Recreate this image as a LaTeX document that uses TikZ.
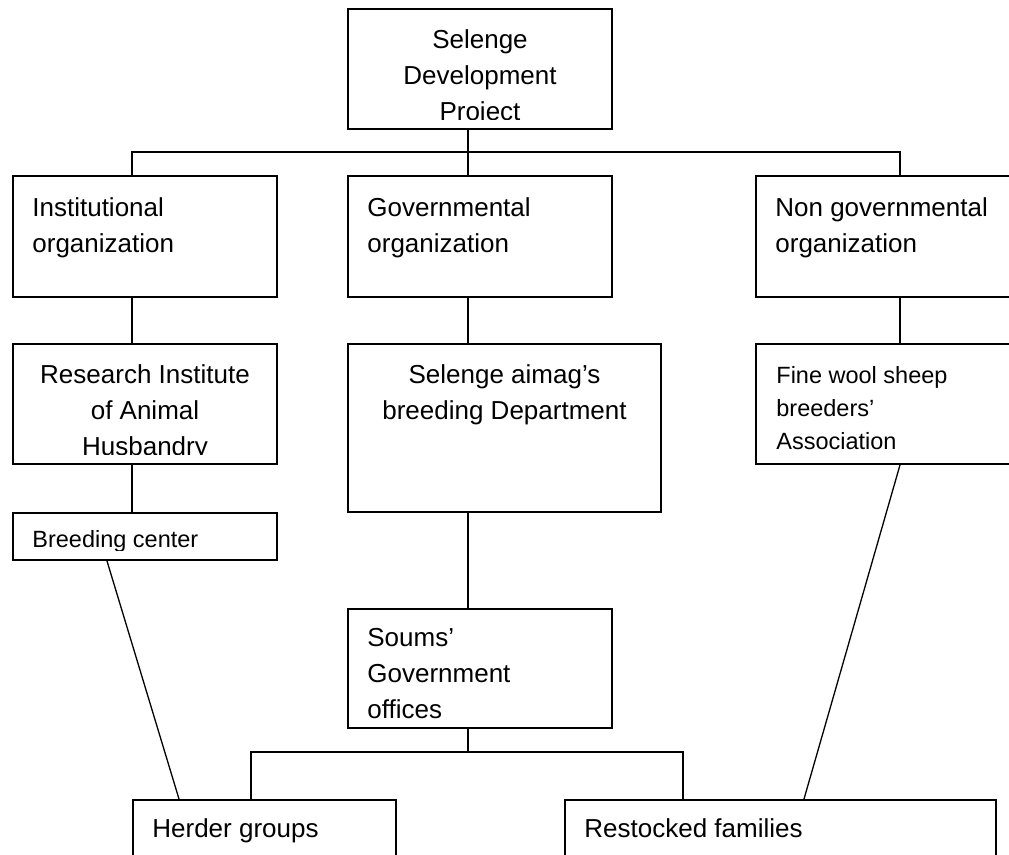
\documentclass[tikz,border=0pt]{standalone}
\usepackage{fontspec}
\setmainfont{Liberation Sans}
\begin{document}
\begin{tikzpicture}[x=0.5pt,y=-0.5pt,
    box/.style={draw, line width=1pt, anchor=north west, inner sep=0pt},
    link/.style={line width=0.65pt},
    lbl/.style={inner sep=0pt, align=left, anchor=north west, font=\fontsize{13}{18}\selectfont},
    small/.style={font=\fontsize{11.75}{16.5}\selectfont}]
    \useasboundingbox (0,0) rectangle (1009,855);
    \clip (0,0) rectangle (1009,855);

    % boxes
    \node[box, minimum width=132pt, minimum height=60pt] (proj) at (347,8) {};
    \node[box, minimum width=132pt, minimum height=60.5pt] (inst) at (12,175) {};
    \node[box, minimum width=132pt, minimum height=60.5pt] (gov) at (347,175) {};
    \node[box, minimum width=140pt, minimum height=60.5pt] (ngo) at (755,175) {};
    \node[box, minimum width=132pt, minimum height=60pt] (res) at (12,343) {};
    \node[box, minimum width=156.5pt, minimum height=84pt] (aimag) at (347,343) {};
    \node[box, minimum width=140pt, minimum height=60pt] (fine) at (755,343) {};
    \node[box, minimum width=132pt, minimum height=23.5pt] (breed) at (12,512) {};
    \node[box, minimum width=132pt, minimum height=59.5pt] (soums) at (347,608) {};
    \node[box, minimum width=131.5pt, minimum height=40pt] (herd) at (132,799) {};
    \node[box, minimum width=215.5pt, minimum height=40pt] (rest) at (564,799) {};

    % texts
    \begin{scope}
        \clip (proj.north west) rectangle ([yshift=5pt]proj.south east);
        \node[lbl, align=center, anchor=north] (projt) at ([yshift=-10.7pt]proj.north) {Selenge\\Development\\Project};
    \end{scope}
    \node[lbl] (instt) at ([shift={(10pt,-11.2pt)}]inst.north west) {Institutional\\organization};
    \node[lbl] (govt) at ([shift={(10pt,-11.2pt)}]gov.north west) {Governmental\\organization};
    \node[lbl] (ngot) at ([shift={(10pt,-11.2pt)}]ngo.north west) {Non governmental\\organization};
    \begin{scope}
        \clip (res.north west) rectangle ([yshift=5pt]res.south east);
        \node[lbl, align=center, anchor=north] (rest1) at ([yshift=-10.7pt]res.north) {Research Institute\\of Animal\\Husbandry};
    \end{scope}
    \node[lbl, align=center, anchor=north] (aimagt) at ([yshift=-10.7pt]aimag.north) {Selenge aimag’s\\breeding Department};
    \node[lbl, small] (finet) at ([shift={(10.5pt,-11.6pt)}]fine.north west) {Fine wool sheep\\breeders’\\Association};
    \begin{scope}
        \clip (breed.north west) rectangle ([yshift=5pt]breed.south east);
        \node[lbl, small, anchor=base west] (breedt) at ([shift={(10pt,-18pt)}]breed.north west) {Breeding center};
    \end{scope}
    \begin{scope}
        \clip (soums.north west) rectangle ([yshift=5pt]soums.south east);
        \node[lbl] (soumst) at ([shift={(10pt,-10.2pt)}]soums.north west) {Soums’\\Government\\offices};
    \end{scope}
    \node[lbl, anchor=base west] (herdt) at ([shift={(10pt,-19.5pt)}]herd.north west) {Herder groups};
    \node[lbl, anchor=base west] (restt) at ([shift={(10pt,-19.5pt)}]rest.north west) {Restocked families};

    % connectors
    \coordinate (busA) at (132,152);
    \coordinate (busB) at (468,152);
    \coordinate (busC) at (900,152);
    \coordinate (busD) at (251,752);
    \coordinate (busE) at (683,752);
    \coordinate (busF) at (468,752);
    \draw[link] (proj.south -| busB) -- (busB);
    \draw[link] (inst.north -| busA) -- (busA) -- (busC) -- (ngo.north -| busC);
    \draw[link] (busB) -- (gov.north -| busB);
    \draw[link] (inst.south -| busA) -- (res.north -| busA);
    \draw[link] (gov.south -| busB) -- (aimag.north -| busB);
    \draw[link] (ngo.south -| busC) -- (fine.north -| busC);
    \draw[link] (res.south -| busA) -- (breed.north -| busA);
    \draw[link] (aimag.south -| busB) -- (soums.north -| busB);
    \draw[link] (soums.south -| busF) -- (busF);
    \draw[link] (herd.north -| busD) -- (busD) -- (busE) -- (rest.north -| busE);
    \draw[link] ([xshift=47.5pt]breed.south west) -- ([xshift=23.5pt]herd.north west);
    \draw[link] (fine.south -| busC) -- ([xshift=120pt]rest.north west);

\end{tikzpicture}
\end{document}
